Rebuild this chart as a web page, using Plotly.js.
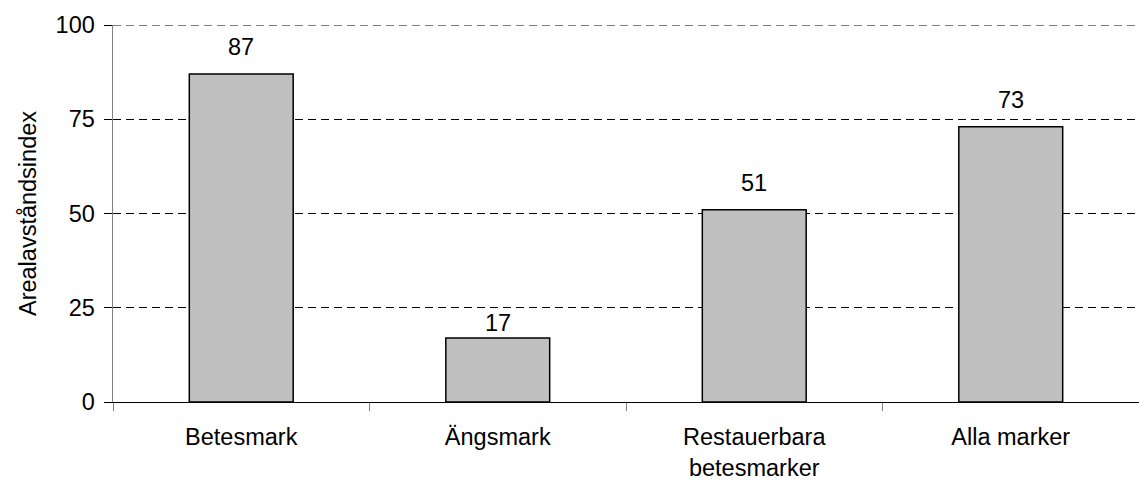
<!DOCTYPE html>
<html><head><meta charset="utf-8">
<script src="https://cdn.plot.ly/plotly-3.0.1.min.js"></script>
<style>html,body{margin:0;padding:0;background:#fff}#chart{width:1139px;height:481px}</style>
</head><body><div id="chart"></div>
<script>
const categories = ["Betesmark", "Ängsmark", "Restauerbara<br>betesmarker", "Alla marker"];
const values = [87, 17, 51, 73];
const yTicks = [0, 25, 50, 75, 100];
const yTitle = "Arealavståndsindex";

const font = {family: "Liberation Sans, Arial, sans-serif", size: 23.5, color: "#000"};
// the label of the short bar sits closer to its bar in the original
const labelShift = i => (i === 1 ? 0 : 12);
Plotly.newPlot("chart", [{
  type: "bar", x: categories, y: values,
  marker: {color: "#c0c0c0", line: {color: "#000", width: 1.5}},
  width: 0.405, hoverinfo: "none"
}], {
  width: 1139, height: 481,
  margin: {l: 113, r: 0, t: 25, b: 79, pad: 0},
  paper_bgcolor: "#fff", plot_bgcolor: "#fff",
  font: font, showlegend: false,
  annotations: categories.map((c, i) => ({
    x: c, y: values[i], xref: "x", yref: "y", text: String(values[i]),
    showarrow: false, yanchor: "bottom", yshift: labelShift(i), font: font
  })),
  shapes: [{type: "line", xref: "paper", yref: "y", x0: 0, x1: 1,
            y0: yTicks[yTicks.length - 1], y1: yTicks[yTicks.length - 1],
            line: {color: "#000", width: 1, dash: "8px,5px"}, layer: "below"}],
  xaxis: {type: "category", tickson: "boundaries", ticks: "outside", ticklen: 8, tickcolor: "#808080",
          ticklabelstandoff: 14,
          showline: true, linecolor: "#000", linewidth: 1, showgrid: false, tickfont: font, fixedrange: true},
  yaxis: {range: [0, 100], tickvals: yTicks, ticks: "outside", ticklen: 8, tickcolor: "#000",
          ticklabelstandoff: 4,
          showline: true, linecolor: "#808080", linewidth: 1.5,
          showgrid: true, gridcolor: "#000", gridwidth: 1, griddash: "8px,5px",
          zeroline: false, tickfont: font,
          title: {text: yTitle, font: font, standoff: 12}, automargin: false}
}, {displayModeBar: false, staticPlot: true});
</script></body></html>
